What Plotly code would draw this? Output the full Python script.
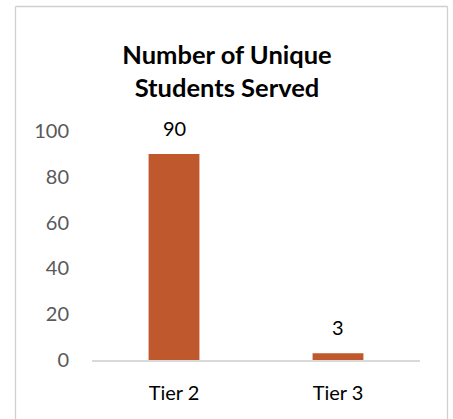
import plotly.graph_objects as go

categories = ["Tier 2", "Tier 3"]
values = [90, 3]
y_ticks = [0, 20, 40, 60, 80, 100]

FONT = "Lato"
L, R, T, B = 92, 33, 131, 59
W, H = 453, 419
pw, ph = W - L - R, H - T - B


def px(x):
    return (x - L) / pw


def py(y):
    return (H - B - y) / ph


fig = go.Figure(go.Bar(x=categories, y=values, marker=dict(color="#C0582D", line=dict(width=0)),
                       hoverinfo="skip"))

for c, v in zip(categories, values):
    fig.add_annotation(x=c, y=v, text=str(v), showarrow=False, yshift=26, yanchor="middle",
                       font=dict(family=FONT, size=20, color="#000000"))

border = dict(color="#D0D0D0", width=1.3)
shapes = [
    dict(type="line", xref="paper", yref="paper", x0=px(15.5), x1=px(15.5), y0=py(6.5), y1=py(430), line=border),
    dict(type="line", xref="paper", yref="paper", x0=px(447.5), x1=px(447.5), y0=py(6.5), y1=py(430), line=border),
    dict(type="line", xref="paper", yref="paper", x0=px(15.5), x1=px(447.5), y0=py(6.5), y1=py(6.5), line=border),
]

fig.update_layout(
    width=W, height=H,
    margin=dict(l=L, r=R, t=T, b=B),
    paper_bgcolor="white", plot_bgcolor="white",
    bargap=0.69,
    showlegend=False,
    title=dict(text="<b>Number of Unique<br>Students Served</b>", x=px(227), xref="paper",
               xanchor="center", y=1 - 64 / H, yanchor="middle",
               font=dict(family=FONT, size=25.5, color="#000000")),
    xaxis=dict(showgrid=False, showline=True, linecolor="#D9D9D9", linewidth=1.5,
               ticks="", tickfont=dict(family=FONT, size=20, color="#000000"),
               ticklabelstandoff=14),
    yaxis=dict(range=[0, 100], tickvals=y_ticks, showgrid=False, showline=False, zeroline=False,
               ticks="", tickfont=dict(family=FONT, size=20, color="#595959"),
               ticklabelstandoff=22),
    shapes=shapes,
)

fig.write_html("out.html", config={"displayModeBar": False},
               post_script="document.body.style.margin='0';document.body.style.padding='0';")
